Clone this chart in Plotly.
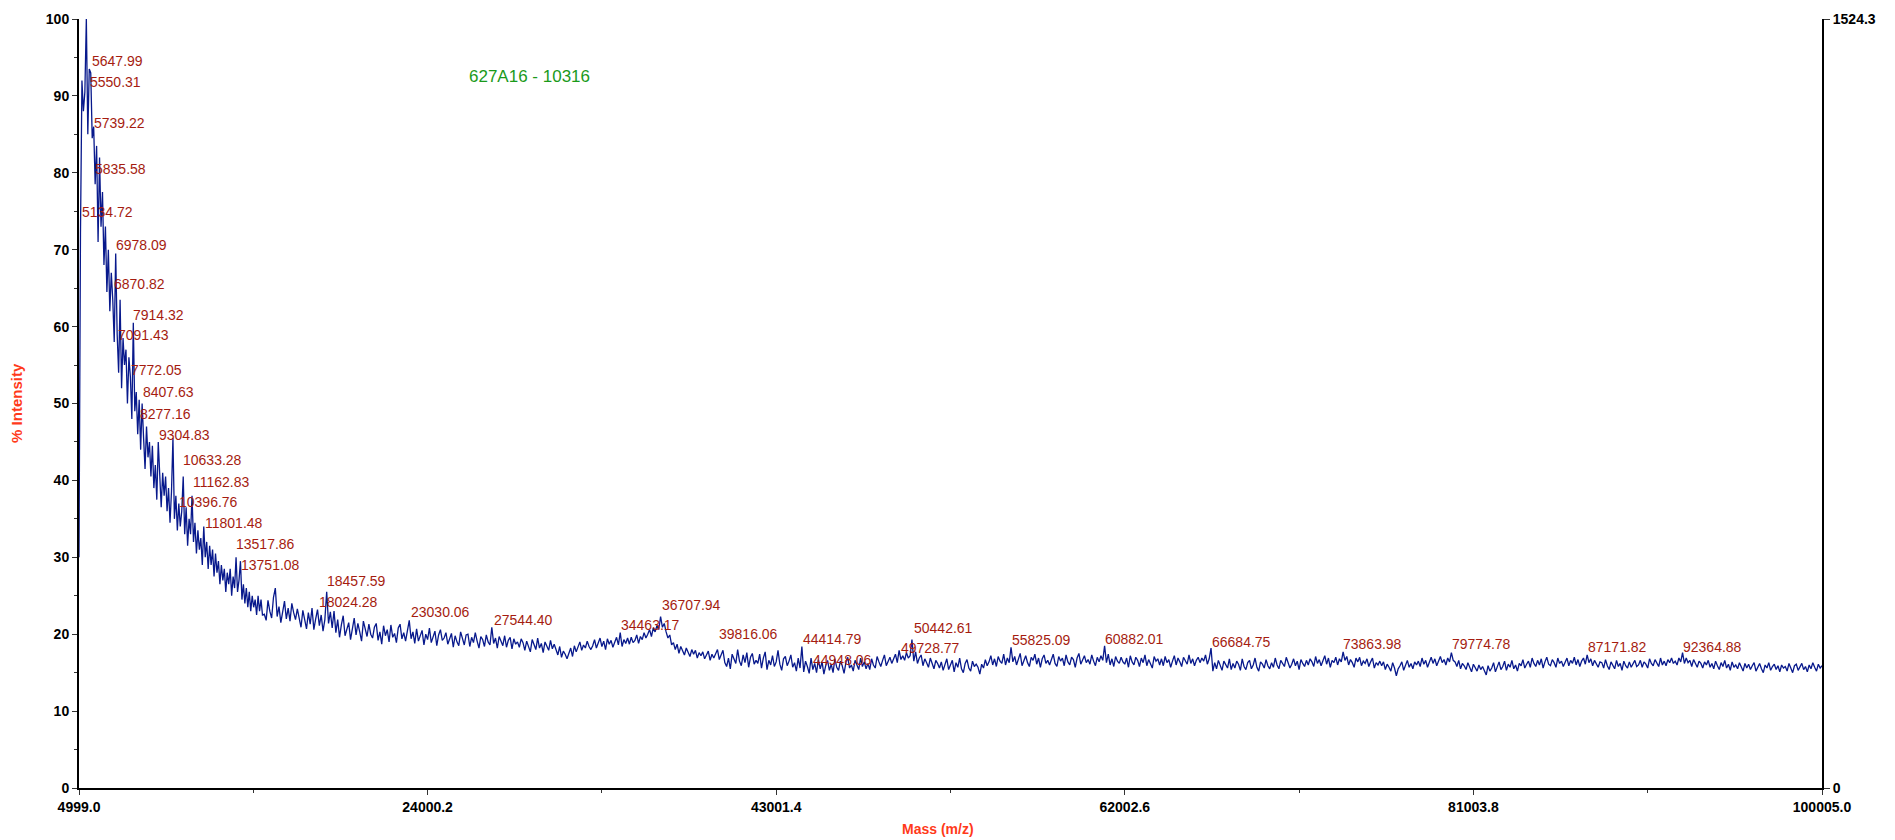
import numpy as np
import plotly.graph_objects as go

# ---------------- data ----------------
# Segment A: 4999 -> 15000 m/z
seg_a_range = (4999.0, 15000.0)
seg_a_vals = [
    30, 72, 92, 88, 90.5, 100, 85, 93.5, 93, 84.5,
    86, 78.5, 83.5, 71, 82, 73, 77.5, 68, 73, 64.5,
    70, 62, 67, 63.5, 58, 69.5, 59, 54, 63.5, 52,
    58.5, 55, 57, 50, 56, 53.5, 48, 60.5, 49, 51.5,
    46, 50.5, 44, 50, 45.5, 41.5, 47, 43, 45, 40.5,
    44.5, 39, 42, 37.5, 45, 40, 36.5, 41, 38, 40.5,
    36, 39, 34.5, 38.5, 45.5, 35, 38, 33.5, 37, 34,
    36, 40.5, 33, 36.5, 31.5, 35, 33, 38, 32, 34.5,
    30.5, 33.5, 31, 32.5, 29, 34, 30, 32, 28.5, 31.5,
    29, 31, 27.5, 30.5, 28, 29.5, 26.5, 29, 27, 28.5,
    25.5, 28, 26.5, 28.5, 25, 27.5, 26, 30, 25.5, 27,
    29.5, 24.5, 26.5, 24, 26, 23.5, 25.5, 23, 25, 23.5,
    24.5, 22.5, 25, 23, 24.5, 22.5,
]

# Segment B: 15000 -> 40000 m/z
seg_b_range = (15000.0, 40000.0)
seg_b_vals = [
    24.1, 22.6, 21.8, 24.4, 23.0, 22.1, 24.8, 26.0, 22.3, 23.6, 21.5, 22.9, 24.3, 22.0, 23.4, 21.7, 24.0, 22.8, 21.9, 23.3,
    22.2, 20.9, 23.1, 21.6, 20.7, 22.8, 21.3, 23.4, 20.6, 22.0, 23.2, 21.1, 22.5, 20.4, 21.9, 25.5, 21.4, 22.9, 20.8, 23.0,
    20.2, 21.9, 19.6, 21.2, 22.4, 19.8, 20.7, 21.5, 19.3, 20.9, 22.1, 19.9, 21.4, 20.3, 19.1, 21.7, 20.5, 19.7, 21.3, 20.0,
    19.5, 20.9, 21.4, 19.2, 20.3, 18.7, 21.1, 19.8, 20.6, 19.0, 21.2, 19.6, 20.1, 18.9, 20.8, 21.3, 19.4, 20.2, 19.1, 20.7,
    21.8, 19.4, 20.3, 18.8, 20.7, 19.1, 19.8, 20.5, 18.6, 20.0, 19.3, 20.8, 18.9, 19.7, 20.4, 18.5, 19.9, 20.6, 19.2, 19.5,
    20.2, 18.7, 19.4, 20.1, 18.3, 19.8, 19.0, 18.5, 20.3, 19.3, 18.6, 19.9, 20.0, 18.4, 19.6, 18.9, 20.2, 19.1, 18.2, 19.7,
    19.3, 18.4, 19.9, 19.0, 18.6, 20.9, 18.8, 19.5, 18.2, 19.7, 19.1, 18.5, 19.8, 18.3, 19.2, 19.6, 18.1, 19.4, 18.7, 19.0,
    18.3, 19.4, 18.9, 17.9, 19.1, 18.4, 17.7, 19.3, 18.6, 18.0, 19.5, 18.2, 18.8, 17.6, 19.0, 18.5, 17.9, 19.2, 18.1, 18.7,
    18.1, 17.3, 18.4, 17.0, 17.8, 17.4, 16.8, 17.6, 18.2, 17.1, 18.5, 17.7, 18.3, 19.0, 17.9, 18.6, 18.2, 19.1, 18.4, 18.0,
    18.5, 19.3, 18.2, 18.9, 19.5, 18.4, 19.1, 18.0, 19.4, 18.7, 19.2, 18.3, 19.0, 19.6, 18.6, 20.2, 18.4, 19.3, 18.8, 19.5,
    18.7, 19.6, 18.9, 19.2, 19.9, 18.8, 19.7, 19.3, 20.2, 19.5, 20.0, 20.6, 19.7, 20.8, 20.3, 21.1, 20.6, 22.3, 20.9, 21.4,
    20.3, 19.5, 19.9, 18.6, 18.9, 18.0, 18.7, 17.5, 18.4, 17.8, 17.3, 18.2, 17.6, 17.1, 18.0, 17.4, 17.9, 16.9, 17.6, 17.2,
    17.7, 16.8, 17.3, 17.8, 16.6, 17.4, 16.9, 17.5, 18.0, 16.7, 17.2,
]

# Segment C: 40000 -> 100005 m/z
seg_c_range = (40000.0, 100005.0)
seg_c_vals = [
    17.1, 17.9, 16.3, 15.8, 16.9, 15.5, 17.4, 16.8, 16.2, 18.0, 16.5, 15.9, 17.3, 16.3, 17.6, 15.7, 17.0, 17.5, 16.1, 16.6,
    16.2, 17.4, 15.6, 16.9, 17.7, 15.4, 16.6, 16.0, 17.2, 15.8, 16.4, 17.9, 16.1, 15.3, 16.8, 17.1, 15.9, 16.5, 17.3, 15.7,
    16.3, 15.2, 16.9, 15.6, 18.4, 15.1, 16.5, 15.8, 14.9, 16.9, 15.4, 16.2, 15.0, 16.7, 15.5, 16.4, 14.8, 15.9, 16.6, 15.3,
    16.1, 15.0, 16.8, 15.7, 15.3, 16.5, 15.9, 14.9, 16.3, 17.0, 15.6, 16.0, 15.2, 16.6, 16.1, 15.4, 16.9, 15.8, 16.4, 15.5,
    16.2, 15.4, 16.8, 16.0, 15.6, 17.1, 16.4, 15.8, 16.6, 17.3, 15.9, 16.5, 17.0, 16.2, 16.8, 17.4, 16.3, 17.9, 16.7, 17.2,
    16.6, 17.6, 16.9, 17.2, 19.3, 16.5, 17.7, 16.2, 16.9, 17.3, 15.9, 16.8, 16.3, 15.7, 16.9, 16.1, 15.5, 16.6, 16.2, 15.6,
    16.4, 15.3, 16.0, 16.8, 15.4, 15.9, 16.6, 15.1, 16.3, 15.7, 16.9, 15.5, 15.0, 16.2, 16.7, 15.6, 15.2, 16.5, 15.8, 16.1,
    15.7, 14.8, 16.1, 15.6, 16.7, 15.9, 16.4, 17.2, 16.0, 16.8, 15.8, 17.1, 16.5, 16.2, 17.4, 16.0, 16.9, 16.3, 18.3, 16.4,
    17.1, 16.0, 16.7, 17.5, 15.9, 16.5, 17.2, 16.3, 15.8, 17.0, 16.6, 17.4, 16.1, 16.9, 15.7, 16.8, 17.3, 16.2, 16.6, 16.0,
    16.8, 17.4, 16.2, 15.8, 17.1, 16.5, 16.9, 15.9, 17.3, 16.4, 16.0, 17.0, 16.7, 15.7, 16.9, 17.5, 16.1, 16.6, 17.2, 16.3,
    16.7, 16.1, 17.3, 16.5, 15.9, 17.0, 16.4, 17.2, 16.6, 18.5, 16.3, 17.4, 16.0, 16.8, 15.8, 17.1, 16.5, 16.2, 17.0, 16.4,
    16.1, 16.9, 15.7, 17.2, 16.4, 16.0, 17.0, 16.6, 15.8, 16.9, 16.3, 17.3, 15.9, 16.7, 16.2, 15.6, 17.1, 16.5, 16.8, 16.0,
    16.8, 15.9, 17.1, 16.3, 16.7, 15.7, 16.5, 17.2, 16.0, 16.9, 16.4, 15.8, 17.0, 16.6, 16.1, 17.3, 16.2, 16.8, 15.9, 16.6,
    17.0, 16.3, 16.9, 16.5, 17.3, 16.1, 16.8, 18.2, 15.2, 16.3, 15.5, 16.6, 15.9, 15.3, 16.5, 16.0, 15.6, 16.8, 15.4, 16.2,
    15.6, 16.5, 16.1, 15.3, 16.8, 15.8, 15.4, 16.3, 16.6, 15.5, 16.0, 16.9, 15.7, 15.2, 16.4, 16.1, 15.6, 16.7, 15.9, 15.5,
    16.3, 15.7, 16.9, 16.0, 15.5, 16.6, 16.2, 15.8, 17.0, 16.4, 15.6, 16.1, 16.8, 15.9, 16.5, 15.4, 16.7, 16.2, 15.8, 16.6,
    16.0, 16.8, 16.4, 15.8, 17.1, 16.2, 16.7, 15.9, 16.5, 17.2, 16.1, 16.9, 15.7, 16.6, 16.3, 17.0, 16.0, 16.8, 16.4, 17.7,
    16.6, 17.1, 16.0, 16.7, 16.3, 15.7, 16.9, 16.4, 17.0, 15.9, 16.5, 16.2, 16.8, 15.8, 16.4, 16.9, 15.6, 16.3, 16.0, 16.5,
    15.9, 16.4, 15.4, 16.1, 15.7, 15.2, 16.3, 15.6, 14.6, 15.5, 15.9, 16.4, 15.3, 16.0, 16.6, 15.7, 16.2, 15.5, 16.4, 16.0,
    16.5, 15.8, 16.9, 16.1, 16.6, 15.7, 16.4, 17.0, 16.2, 16.8, 15.9, 16.5, 17.1, 16.3, 16.7, 16.0, 16.9, 16.4, 17.6, 16.6,
    16.4, 15.8, 16.6, 15.5, 16.2, 15.9, 15.4, 16.3, 15.7, 15.1, 16.1, 15.6, 15.2, 16.0, 15.4, 15.8, 15.3, 14.7, 15.9, 15.2,
    15.6, 16.3, 15.1, 15.9, 16.4, 15.4, 15.8, 16.5, 15.3, 16.1, 15.7, 16.6, 15.5, 16.0, 15.2, 16.2, 15.9, 16.7, 15.6, 16.1,
    16.5, 15.7, 16.9, 16.2, 15.8, 16.6, 16.0, 16.8, 15.6, 16.4, 17.0, 16.1, 15.9, 16.7, 16.3, 15.7, 16.9, 16.2, 16.5, 15.8,
    16.4, 16.9, 15.9, 16.6, 16.2, 17.0, 16.0, 16.7, 15.8, 16.5, 16.9, 16.1, 17.3, 16.3, 16.8, 15.9, 16.6, 16.2, 15.7, 16.4,
    16.3, 15.6, 16.7, 15.9, 15.4, 16.4, 16.0, 15.5, 16.6, 15.8, 16.2, 15.3, 16.5, 15.9, 15.6, 16.4, 15.7, 16.1, 16.6, 15.8,
    16.0, 16.6, 15.7, 16.4, 16.1, 15.6, 16.8, 16.2, 15.9, 16.7, 16.3, 15.8, 16.9, 16.0, 16.5, 15.9, 16.7, 16.3, 16.9, 16.2,
    16.5, 16.0, 16.9, 16.4, 17.6, 16.2, 16.9, 16.3, 16.6, 15.8, 16.7, 16.1, 15.7, 16.5, 16.2, 15.6, 16.4, 16.0, 16.6, 15.7,
    16.2, 15.5, 16.5, 15.9, 15.4, 16.3, 15.8, 16.6, 15.6, 16.1, 15.3, 16.4, 15.7, 16.0, 15.5, 16.3, 15.8, 15.2, 16.2, 15.6,
    16.1, 15.4, 15.9, 16.3, 15.2, 15.8, 16.2, 15.5, 15.0, 16.0, 15.6, 16.3, 15.3, 15.8, 16.1, 15.4, 15.9, 15.1, 16.0, 15.6,
    15.8, 15.2, 16.2, 15.6, 15.0, 15.9, 16.1, 15.3, 15.7, 16.2, 15.4, 15.8, 15.1, 16.0, 15.5, 16.3, 15.7, 15.2, 16.1, 15.6,
    15.9,
]

# absolute intensity (counts) corresponding to 100 %
full_scale_counts = 1524.3

# labelled peaks (m/z) and the height (% intensity) where each label sits
peak_masses = [
    "5647.99", "5550.31", "5739.22", "5835.58", "5134.72", "6978.09", "6870.82",
    "7914.32", "7091.43", "7772.05", "8407.63", "8277.16", "9304.83", "10633.28",
    "11162.83", "10396.76", "11801.48", "13517.86", "13751.08", "18457.59",
    "18024.28", "23030.06", "27544.40", "34463.17", "36707.94", "39816.06",
    "44414.79", "44948.06", "49728.77", "50442.61", "55825.09", "60882.01",
    "66684.75", "73863.98", "79774.78", "87171.82", "92364.88",
]
label_levels = [
    94.5, 91.8, 86.5, 80.5, 74.9, 70.6, 65.6,
    61.5, 58.9, 54.4, 51.5, 48.6, 45.9, 42.7,
    39.8, 37.2, 34.5, 31.7, 29.0, 26.9,
    24.2, 22.9, 21.8, 21.2, 23.8, 20.0,
    19.4, 16.6, 18.2, 20.8, 19.2, 19.4,
    19.0, 18.7, 18.7, 18.4, 18.4,
]

x_tick_labels = ["4999.0", "24000.2", "43001.4", "62002.6", "81003.8", "100005.0"]
y_tick_labels = ["0", "10", "20", "30", "40", "50", "60", "70", "80", "90", "100"]
right_tick_labels = ["0", "1524.3"]
sample_title = "627A16 - 10316"

# ---------------- build ----------------
def seg(rng, vals):
    return np.linspace(rng[0], rng[1], len(vals)), np.array(vals, dtype=float)

xa, ya = seg(seg_a_range, seg_a_vals)
xb, yb = seg(seg_b_range, seg_b_vals)
xc, yc = seg(seg_c_range, seg_c_vals)
mass = np.concatenate([xa, xb[1:], xc[1:]])
inten = np.concatenate([ya, yb[1:], yc[1:]])

FONT = "Liberation Sans, Arial, sans-serif"
LINE_BLUE = "#08198c"
LABEL_RED = "#a51c10"
AXIS_RED = "#ff3a1a"

fig = go.Figure()
fig.add_trace(go.Scatter(x=mass, y=inten, mode="lines",
                         line=dict(color=LINE_BLUE, width=1.3),
                         hoverinfo="skip", showlegend=False))
# same spectrum in absolute counts on the right axis (invisible, keeps the axis alive)
fig.add_trace(go.Scatter(x=mass, y=inten * full_scale_counts / 100.0, yaxis="y2",
                         mode="lines", line=dict(color=LINE_BLUE, width=1),
                         opacity=0, hoverinfo="skip", showlegend=False))

xt = [float(v) for v in x_tick_labels]
yt = [float(v) for v in y_tick_labels]
rt = [float(v) for v in right_tick_labels]

annotations = []
for m, lv in zip(peak_masses, label_levels):
    annotations.append(dict(x=float(m), y=lv, xref="x", yref="y", text=m,
                            showarrow=False, xanchor="left", yanchor="middle",
                            font=dict(family=FONT, size=14, color=LABEL_RED),
                            borderpad=0))
annotations.append(dict(x=0.2226, y=0.9246, xref="paper", yref="paper",
                        text=sample_title, showarrow=False, xanchor="left",
                        yanchor="middle",
                        font=dict(family=FONT, size=17, color="#1a9a1a")))
annotations.append(dict(x=0.4928, y=-0.053, xref="paper", yref="paper",
                        text="<b>Mass (m/z)</b>", showarrow=False,
                        xanchor="center", yanchor="middle",
                        font=dict(family=FONT, size=14, color=AXIS_RED)))
annotations.append(dict(x=-0.0356, y=0.5007, xref="paper", yref="paper",
                        text="<b>% Intensity</b>", showarrow=False, textangle=-90,
                        xanchor="center", yanchor="middle",
                        font=dict(family=FONT, size=15, color=AXIS_RED)))

tickfont = dict(family=FONT, size=14, color="black", weight="bold")

fig.update_layout(
    width=1895, height=840,
    margin=dict(l=79, r=73, t=19, b=52),
    paper_bgcolor="white", plot_bgcolor="white",
    showlegend=False,
    annotations=annotations,
    xaxis=dict(range=[xt[0], xt[-1]], tickmode="array", tickvals=xt,
               ticktext=x_tick_labels, ticks="outside", ticklen=5,
               tickcolor="#333333", tickwidth=1,
               minor=dict(ticks="outside", tick0=xt[0], dtick=(xt[1] - xt[0]) / 2,
                          ticklen=3, tickcolor="#333333"),
               showline=True, linecolor="black", linewidth=2,
               showgrid=False, zeroline=False, tickfont=tickfont),
    yaxis=dict(range=[0, 100], tickmode="array", tickvals=yt,
               ticktext=y_tick_labels, ticks="outside", ticklen=5,
               tickcolor="#333333", tickwidth=1,
               minor=dict(ticks="outside", tick0=0, dtick=5, ticklen=3,
                          tickcolor="#333333"),
               showline=True, linecolor="black", linewidth=2,
               showgrid=False, zeroline=False, tickfont=tickfont),
    yaxis2=dict(overlaying="y", side="right", anchor="x",
                range=[rt[0], rt[-1]], tickmode="array", tickvals=rt,
                ticktext=right_tick_labels, ticks="outside", ticklen=6,
                tickcolor="#333333", showline=True, linecolor="black",
                linewidth=2, showgrid=False, zeroline=False, tickfont=tickfont),
)

fig.write_html("out.html", config={"displayModeBar": False},
               post_script="document.body.style.margin='0';")
